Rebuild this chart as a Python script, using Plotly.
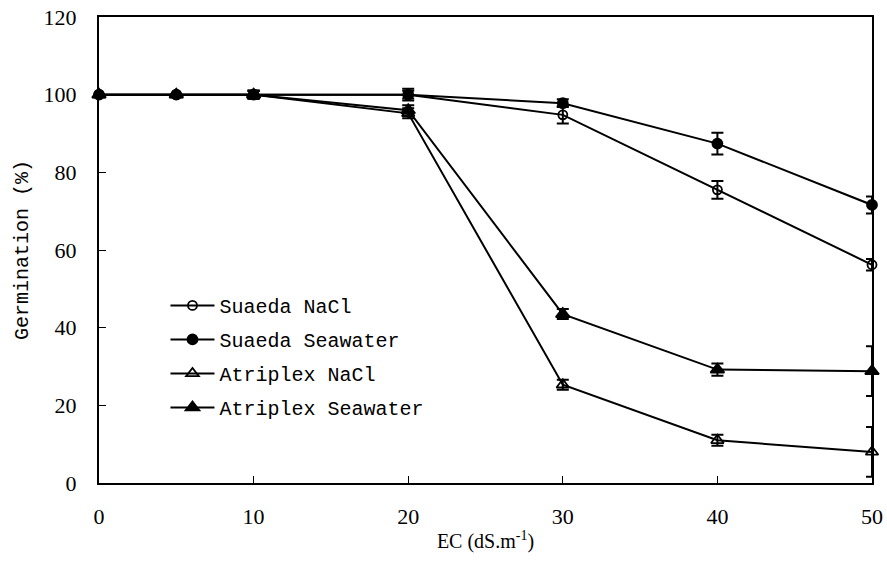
import plotly.graph_objects as go

ec = [0, 5, 10, 20, 30, 40, 50]

suaeda_nacl = [100, 100, 100, 100, 94.8, 75.5, 56.2]
suaeda_nacl_err = [0, 0, 1.0, 1.0, 2.2, 2.3, 1.5]

suaeda_sea = [100, 100, 100, 100, 97.8, 87.4, 71.6]
suaeda_sea_err = [0, 0, 1.0, 1.5, 1.0, 2.8, 2.2]

atriplex_nacl = [100, 100, 100, 95.2, 25.3, 11.0, 8.0]
atriplex_nacl_err = [0, 0, 1.0, 1.3, 1.3, 1.4, 6.4]

atriplex_sea = [100, 100, 100, 96.0, 43.5, 29.2, 28.8]
atriplex_sea_err = [0, 0, 1.0, 1.3, 1.3, 1.6, 6.4]

series = [
    ("Suaeda NaCl", suaeda_nacl, suaeda_nacl_err, "circle-open", 9),
    ("Suaeda Seawater", suaeda_sea, suaeda_sea_err, "circle", 10),
    ("Atriplex NaCl", atriplex_nacl, atriplex_nacl_err, "triangle-up-open", 11),
    ("Atriplex Seawater", atriplex_sea, atriplex_sea_err, "triangle-up", 12),
]

fig = go.Figure()
for i, (name, ys, err, sym, sz) in enumerate(series):
    fig.add_trace(go.Scatter(
        x=ec, y=ys, name=name, mode="lines+markers",
        legendgroup="g%d" % i,
        line=dict(color="black", width=2),
        marker=dict(symbol=sym, size=sz, color="black",
                    line=dict(color="black", width=1.8)),
        error_y=dict(type="data", array=err, visible=True,
                     color="black", thickness=2, width=6),
        cliponaxis=False,
    ))

fig.update_layout(
    width=887, height=562,
    margin=dict(l=99, r=15, t=17, b=79, autoexpand=False),
    paper_bgcolor="white", plot_bgcolor="white",
    showlegend=True,
    legend=dict(x=0.086, y=0.423, xanchor="left", yanchor="top",
                bgcolor="rgba(0,0,0,0)",
                font=dict(family="Liberation Mono", size=20, color="black"),
                tracegroupgap=5, itemwidth=44),
    font=dict(family="Liberation Serif", color="black"),
)

fig.update_xaxes(
    range=[0, 50], dtick=10, tick0=0, automargin=False,
    showgrid=False, zeroline=False,
    showline=True, linecolor="black", linewidth=2, mirror=True,
    ticks="inside", ticklen=7, tickwidth=1, tickcolor="black",
    tickfont=dict(family="Liberation Serif", size=22, color="black"),
    ticklabelstandoff=13,
    title=dict(text="EC (dS.m<sup>-1</sup>)",
               font=dict(family="Liberation Serif", size=20, color="black"),
               standoff=6),
)
fig.update_yaxes(
    range=[0, 120], dtick=20, tick0=0, automargin=False,
    showgrid=False, zeroline=False,
    showline=True, linecolor="black", linewidth=2, mirror=True,
    ticks="inside", ticklen=7, tickwidth=1, tickcolor="black",
    tickfont=dict(family="Liberation Serif", size=22, color="black"),
    ticklabelstandoff=16,
    title=dict(text="Germination (%)",
               font=dict(family="Liberation Mono", size=20, color="black"),
               standoff=10),
)

fig.write_html("out.html")
